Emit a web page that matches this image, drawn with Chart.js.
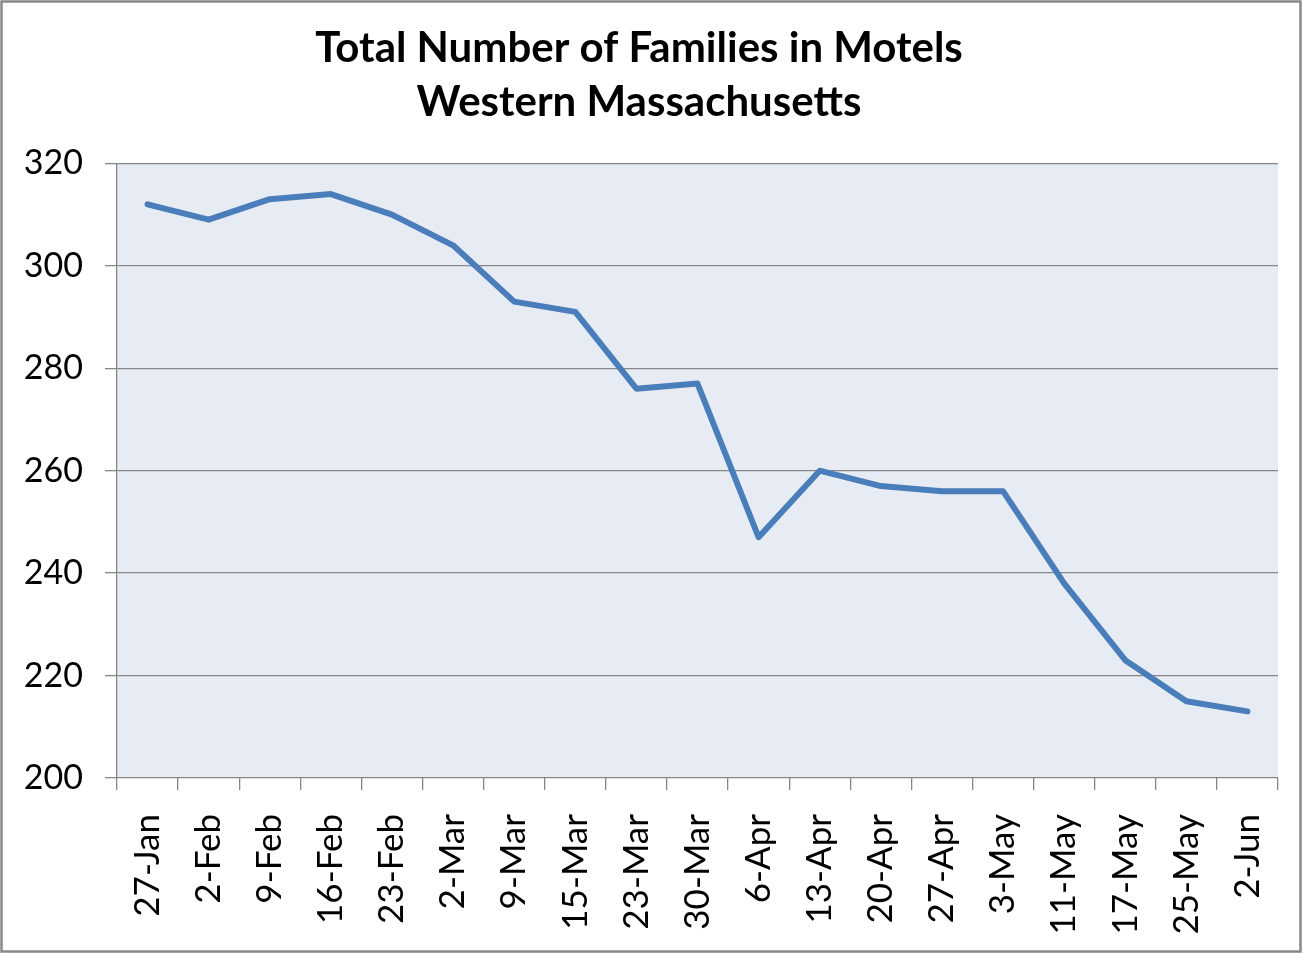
<!DOCTYPE html>
<html>
<head>
<meta charset="utf-8">
<script src="https://cdn.jsdelivr.net/npm/chart.js@4"></script>
<style>
  html, body { margin: 0; padding: 0; background: #fff; }
  #wrap { width: 1303px; height: 954px; position: relative; }
</style>
</head>
<body>
<div id="wrap"><canvas id="motelChart" width="1303" height="954"></canvas></div>
<script>
// ===== DATA =====
const weeks = ["27-Jan", "2-Feb", "9-Feb", "16-Feb", "23-Feb", "2-Mar", "9-Mar", "15-Mar", "23-Mar", "30-Mar",
  "6-Apr", "13-Apr", "20-Apr", "27-Apr", "3-May", "11-May", "17-May", "25-May", "2-Jun"];
const families = [312, 309, 313, 314, 310, 304, 293, 291, 276, 277,
  247, 260, 257, 256, 256, 238, 223, 215, 213];
const yTicks = [200, 220, 240, 260, 280, 300, 320];

const FONT = "Lato, 'Open Sans', sans-serif";
const GRID = "#878787";

// plot background + outer frame
const frame = {
  id: "frame",
  beforeDraw(chart) {
    const c = chart.ctx, a = chart.chartArea;
    c.save();
    c.fillStyle = "#E7ECF4";
    c.fillRect(a.left, a.top, a.right - a.left, a.bottom - a.top);
    c.strokeStyle = "#888";
    c.lineWidth = 2.5;
    c.strokeRect(1.5, 1.5, chart.width - 4, chart.height - 4);
    c.restore();
  }
};

const ctx = document.getElementById("motelChart").getContext("2d");
const motelChart = new Chart(ctx, {
  type: "line",
  data: {
    labels: weeks,
    datasets: [{
      label: "Families",
      data: families,
      borderColor: "#4A7EBB",
      borderWidth: 6,
      borderCapStyle: "round",
      borderJoinStyle: "round",
      pointRadius: 0,
      tension: 0,
      fill: false
    }]
  },
  options: {
    responsive: false,
    animation: false,
    layout: { padding: { left: 0, right: 25, top: 0, bottom: 0 } },
    plugins: {
      legend: { display: false },
      tooltip: { enabled: false },
      title: {
        display: true,
        text: ["Total Number of Families in Motels", "Western Massachusetts"],
        color: "#000",
        font: { family: FONT, size: 42, weight: "bold", lineHeight: 1.29 },
        padding: { top: 21, bottom: 34 }
      }
    },
    scales: {
      x: {
        offset: true,
        grid: { offset: true, drawOnChartArea: false, color: GRID, lineWidth: 1.3, tickLength: 12 },
        border: { display: false },
        ticks: {
          autoSkip: false,
          minRotation: 90,
          maxRotation: 90,
          padding: 24,
          color: "#000",
          font: { family: FONT, size: 35 }
        },
        afterFit(scale) {
          scale.height = 954 - 778;
          scale.paddingLeft = 0;
          scale.paddingRight = 0;
        }
      },
      y: {
        min: 200,
        max: 320,
        afterBuildTicks(scale) { scale.ticks = yTicks.map(v => ({ value: v })); },
        grid: { color: GRID, lineWidth: 1.3, tickLength: 12 },
        border: { color: GRID, width: 1.3 },
        ticks: {
          padding: 22,
          color: "#000",
          font: { family: FONT, size: 34 }
        },
        afterFit(scale) { scale.width = 117; }
      }
    }
  },
  plugins: [frame]
});
</script>
</body>
</html>
